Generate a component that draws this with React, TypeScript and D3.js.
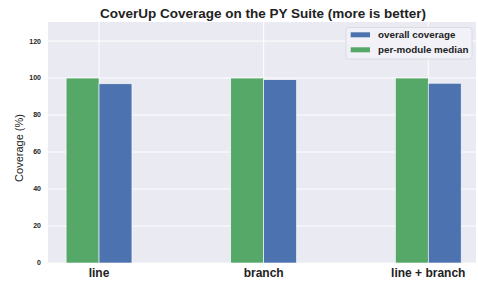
import * as d3 from "d3";

const categories = ["line", "branch", "line + branch"];
const overallCoverage = [96.9, 99.1, 97.2];
const perModuleMedian = [100, 100, 100];
const yTicks = [0, 20, 40, 60, 80, 100, 120];

const width = 478;
const height = 281;
const plot = { left: 48, right: 476, top: 22, bottom: 263 };

const blue = "#4C72B0";
const green = "#55A868";
const font = '"Liberation Sans", Arial, Helvetica, sans-serif';

export default function App() {
  const x = d3.scaleLinear().domain([-0.31, 2.29]).range([plot.left, plot.right]);
  const y = d3.scaleLinear().domain([0, 130.3]).range([plot.bottom, plot.top]);
  const barW = x(0.2) - x(0);

  return (
    <svg
      width={width}
      height={height}
      fontFamily={font}
      style={{ position: "absolute", left: 0, top: 0, background: "white" }}
    >
      <rect
        x={plot.left}
        y={plot.top}
        width={plot.right - plot.left}
        height={plot.bottom - plot.top}
        fill="#EAEAF2"
      />
      {yTicks.map((t) => (
        <g key={t}>
          <line x1={plot.left} x2={plot.right} y1={y(t)} y2={y(t)} stroke="white" strokeWidth={1} />
          <text x={41} y={y(t)} dy="0.35em" textAnchor="end" fontSize={7} fontWeight={700} fill="#222">
            {t}
          </text>
        </g>
      ))}
      {categories.map((c, i) => (
        <g key={c}>
          <line x1={x(i)} x2={x(i)} y1={plot.top} y2={plot.bottom} stroke="white" strokeWidth={1} />
          <rect
            x={x(i) - barW}
            y={y(perModuleMedian[i])}
            width={barW}
            height={y(0) - y(perModuleMedian[i])}
            fill={green}
            stroke="white"
            strokeWidth={0.6}
          />
          <rect
            x={x(i)}
            y={y(overallCoverage[i])}
            width={barW}
            height={y(0) - y(overallCoverage[i])}
            fill={blue}
            stroke="white"
            strokeWidth={0.6}
          />
          <text x={x(i)} y={277} textAnchor="middle" fontSize={12} fontWeight={700} fill="#222">
            {c}
          </text>
        </g>
      ))}
      <text
        transform={`translate(23, 148) rotate(-90)`}
        textAnchor="middle"
        fontSize={11}
        fill="#222"
      >
        Coverage (%)
      </text>
      <text x={263} y={18} textAnchor="middle" fontSize={13.5} fontWeight={700} fill="#222">
        CoverUp Coverage on the PY Suite (more is better)
      </text>
      <g transform="translate(346, 27.5)">
        <rect width={126} height={31.5} rx={2.5} fill="#F2F2F7" fillOpacity={0.9} stroke="#D6D6DE" strokeWidth={0.8} />
        <rect x={4.7} y={4.8} width={19.3} height={5} fill={blue} />
        <text x={32} y={10.8} fontSize={9.8} fontWeight={700} fill="#222">
          overall coverage
        </text>
        <rect x={4.7} y={19.8} width={19.3} height={5} fill={green} />
        <text x={32} y={25.8} fontSize={9.8} fontWeight={700} fill="#222">
          per-module median
        </text>
      </g>
    </svg>
  );
}
